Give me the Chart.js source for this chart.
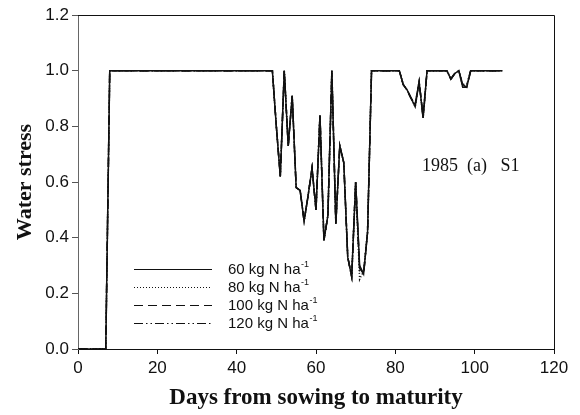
<!DOCTYPE html>
<html>
<head>
<meta charset="utf-8">
<script src="https://cdn.jsdelivr.net/npm/chart.js@4/dist/chart.umd.min.js"></script>
<style>
html, body { margin: 0; padding: 0; background: #fff; }
</style>
</head>
<body>
<canvas id="stressChart" width="580" height="415"></canvas>
<script>
// days after sowing (only the days where the curves change)
var days = [0, 7, 8, 49, 50, 51, 52, 53, 54, 55, 56, 57, 58, 59, 60, 61, 62, 63, 64, 65,
            66, 67, 68, 69, 70, 71, 72, 73, 74, 81, 82, 83, 84, 85, 86, 87, 88, 93, 94, 95,
            96, 97, 98, 99, 107];

var n60  = [0, 0, 1, 1, 0.80, 0.62, 1.00, 0.73, 0.91, 0.58, 0.57, 0.46, 0.55, 0.65, 0.50, 0.84, 0.39, 0.48, 1.00, 0.45,
            0.73, 0.67, 0.33, 0.26, 0.60, 0.30, 0.27, 0.42, 1.00, 1.00, 0.95, 0.93, 0.90, 0.87, 0.96, 0.83, 1.00, 1.00, 0.97, 0.99,
            1.00, 0.94, 0.94, 1.00, 1.00];
var n80  = [0, 0, 1, 1, 0.80, 0.62, 1.00, 0.73, 0.91, 0.58, 0.57, 0.46, 0.55, 0.65, 0.50, 0.84, 0.39, 0.48, 1.00, 0.45,
            0.73, 0.67, 0.33, 0.26, 0.60, 0.25, 0.28, 0.42, 1.00, 1.00, 0.95, 0.93, 0.90, 0.87, 0.96, 0.83, 1.00, 1.00, 0.97, 0.99,
            1.00, 0.94, 0.95, 1.00, 1.00];
var n100 = [0, 0, 1, 1, 0.80, 0.62, 1.00, 0.73, 0.91, 0.58, 0.57, 0.46, 0.55, 0.65, 0.50, 0.84, 0.39, 0.48, 1.00, 0.45,
            0.73, 0.67, 0.33, 0.26, 0.60, 0.29, 0.27, 0.42, 1.00, 1.00, 0.95, 0.93, 0.90, 0.88, 0.96, 0.84, 1.00, 1.00, 0.97, 0.99,
            1.00, 0.95, 0.94, 1.00, 1.00];
var n120 = [0, 0, 1, 1, 0.80, 0.62, 1.00, 0.73, 0.91, 0.58, 0.57, 0.46, 0.55, 0.65, 0.50, 0.84, 0.39, 0.48, 1.00, 0.45,
            0.73, 0.67, 0.33, 0.26, 0.60, 0.28, 0.27, 0.42, 1.00, 1.00, 0.95, 0.93, 0.90, 0.88, 0.96, 0.83, 1.00, 1.00, 0.97, 0.99,
            1.00, 0.95, 0.95, 1.00, 1.00];

var seriesNames = ['60 kg N ha', '80 kg N ha', '100 kg N ha', '120 kg N ha'];
var seriesValues = [n60, n80, n100, n120];
var seriesDash = [[], [1, 2], [9, 5], [9, 3, 1.5, 3, 1.5, 3]];

var xTicks = [0, 20, 40, 60, 80, 100, 120];
var yTicks = [0, 0.2, 0.4, 0.6, 0.8, 1.0, 1.2];

function toPoints(vals) {
    return days.map(function (d, i) { return { x: d, y: vals[i] }; });
}

var datasets = seriesValues.map(function (vals, i) {
    return {
        label: seriesNames[i],
        data: toPoints(vals),
        borderColor: '#111',
        borderWidth: 1.5,
        borderDash: seriesDash[i],
        pointRadius: 0,
        fill: false,
        tension: 0
    };
});

// frame, legend and year label
var extras = {
    id: 'extras',
    afterDraw: function (chart) {
        var ctx = chart.ctx, a = chart.chartArea;
        ctx.save();
        ctx.strokeStyle = '#111';
        ctx.lineWidth = 1;
        ctx.beginPath();
        ctx.moveTo(a.left, a.top + 0.5);
        ctx.lineTo(a.right + 0.5, a.top + 0.5);
        ctx.lineTo(a.right + 0.5, a.bottom);
        ctx.stroke();

        chart.data.datasets.forEach(function (ds, i) {
            var y = a.top + 254 + i * 18;
            var x0 = a.left + 56;
            ctx.setLineDash(ds.borderDash);
            ctx.lineWidth = 1;
            ctx.strokeStyle = '#111';
            ctx.beginPath();
            ctx.moveTo(x0, y + 0.5);
            ctx.lineTo(x0 + 78, y + 0.5);
            ctx.stroke();
            ctx.setLineDash([]);
            ctx.fillStyle = '#111';
            ctx.textBaseline = 'middle';
            ctx.textAlign = 'left';
            ctx.font = '15px "Liberation Sans", Arial, sans-serif';
            ctx.fillText(ds.label, x0 + 94, y + 1);
            var w = ctx.measureText(ds.label).width;
            ctx.font = '9px "Liberation Sans", Arial, sans-serif';
            ctx.fillText('-1', x0 + 94 + w + 0.5, y - 4);
        });

        ctx.font = '18px "Liberation Serif", "Times New Roman", serif';
        ctx.textBaseline = 'alphabetic';
        ctx.fillText('1985  (a)   S1', a.left + 344, a.top + 156);
        ctx.restore();
    }
};

var ctx = document.getElementById('stressChart').getContext('2d');
var stressChart = new Chart(ctx, {
    type: 'line',
    data: { datasets: datasets },
    options: {
        responsive: false,
        animation: false,
        layout: { padding: { left: 0, right: 26, top: 15, bottom: 0 } },
        plugins: { legend: { display: false }, tooltip: { enabled: false } },
        scales: {
            x: {
                type: 'linear',
                min: 0, max: 120,
                afterBuildTicks: function (s) { s.ticks = xTicks.map(function (v) { return { value: v }; }); },
                afterFit: function (s) { s.height = 66; },
                ticks: { color: '#111', padding: 4, font: { family: '"Liberation Sans", Arial, sans-serif', size: 17 } },
                grid: { drawOnChartArea: false, drawTicks: true, tickLength: 5, tickColor: '#111' },
                border: { display: true, color: '#111', width: 1 },
                title: {
                    display: true, text: 'Days from sowing to maturity', color: '#111',
                    padding: { top: 0, bottom: 3 },
                    font: { family: '"Liberation Serif", "Times New Roman", serif', size: 23, weight: 'bold' }
                }
            },
            y: {
                min: 0, max: 1.2,
                afterBuildTicks: function (s) { s.ticks = yTicks.map(function (v) { return { value: v }; }); },
                afterFit: function (s) { s.width = 78; },
                ticks: {
                    color: '#111', padding: 3,
                    font: { family: '"Liberation Sans", Arial, sans-serif', size: 17 },
                    callback: function (v) { return Number(v).toFixed(1); }
                },
                grid: { drawOnChartArea: false, drawTicks: true, tickLength: 6, tickColor: '#555' },
                border: { display: true, color: '#666', width: 1 },
                title: {
                    display: true, text: 'Water stress', color: '#111',
                    padding: { top: 12, bottom: 0 },
                    font: { family: '"Liberation Serif", "Times New Roman", serif', size: 22, weight: 'bold' }
                }
            }
        }
    },
    plugins: [extras]
});
</script>
</body>
</html>
